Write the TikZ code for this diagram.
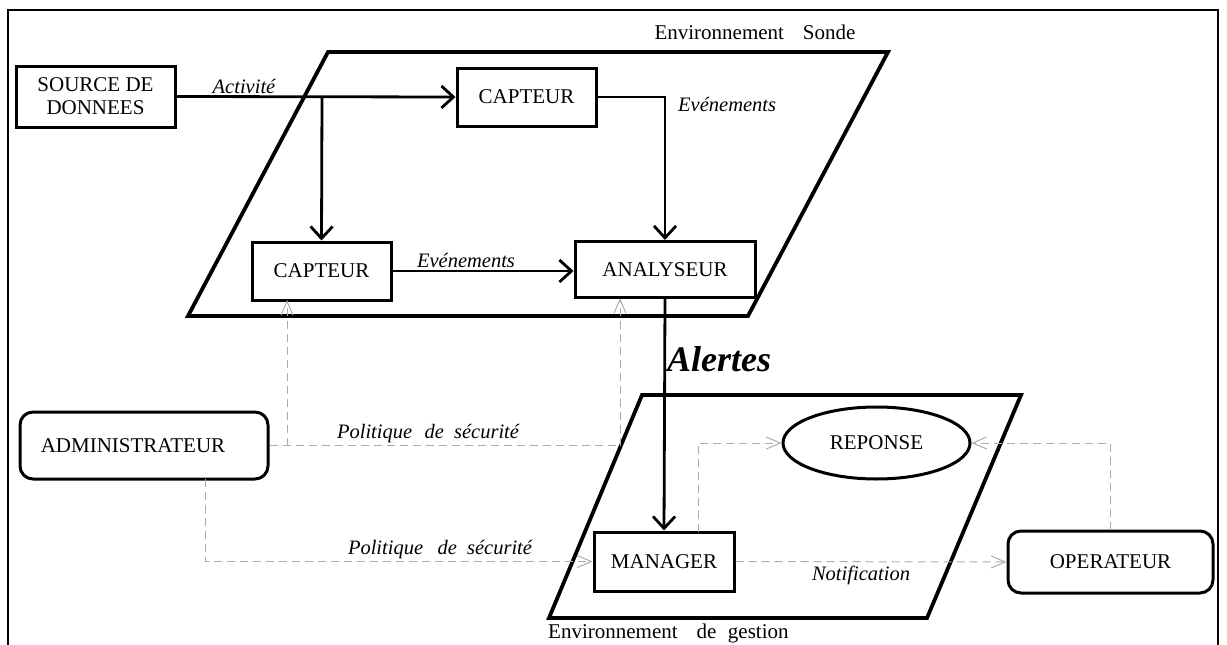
\documentclass[tikz,border=0pt]{standalone}
\usepackage{fontspec}
\setmainfont{Liberation Serif}
\usetikzlibrary{arrows.meta,shapes.geometric,calc}
\begin{document}
\begin{tikzpicture}[x=1pt,y=-1pt,
  box/.style={draw,line width=3pt,inner sep=0pt,font=\fontsize{21}{23}\selectfont,align=center},
  rbox/.style={box,rounded corners=13pt},
  conn/.style={line width=2.8pt,-{Straight Barb[length=12pt,width=22pt]}},
  dsh/.style={gray!65,line width=1pt,dash pattern=on 8pt off 5pt,-{Straight Barb[length=14pt,width=12pt]}},
  dshl/.style={gray!65,line width=1pt,dash pattern=on 8pt off 5pt},
  lbl/.style={font=\fontsize{20.5}{22}\selectfont\itshape,inner sep=0pt},
  envtxt/.style={font=\fontsize{21}{23}\selectfont,inner sep=0pt},
  env/.style={line width=3.8pt,line join=miter}]
\useasboundingbox (0,0) rectangle (1227,645);
% outer frame
\draw[line width=2.2pt] (8,645) -- (8,10) -- (1218,10) -- (1218,645);
% environments
\draw[env] (328,52) -- (888,52) -- (748,316) -- (188,316) -- cycle;
\draw[env] (642,395) -- (1021,395) -- (927,618) -- (549,618) -- cycle;
\node[envtxt] (envs) at (755,32) {Environnement\hspace{0.9em}Sonde};
\node[envtxt,anchor=west] (envg) at (548,633) {Environnement\hspace{0.9em}de\hspace{0.3em} gestion};
% nodes
\node[box,minimum width=159pt,minimum height=61pt] (src) at (95.5,96.5) {SOURCE DE\\DONNEES};
\node[box,minimum width=139pt,minimum height=58pt] (cap1) at (526.5,97) {CAPTEUR};
\node[box,minimum width=139pt,minimum height=58pt] (cap2) at (321.5,271) {CAPTEUR};
\node[box,minimum width=180pt,minimum height=56pt] (ana) at (665,269.5) {ANALYSEUR};
\node[box,minimum width=140pt,minimum height=59pt] (mgr) at (664,561.5) {MANAGER};
\node[rbox,minimum width=205pt,minimum height=62pt] (op) at (1110.5,562) {OPERATEUR};
\node[rbox,minimum width=248pt,minimum height=67pt] (admin) at (144,445.5) {\hspace*{-22pt}ADMINISTRATEUR};
\node[box,ellipse,minimum width=187pt,minimum height=72pt] (rep) at (876.5,443) {REPONSE};
% solid connectors
\coordinate (br) at (322,97);
\draw[conn] (src.east) -- (cap1.west);
\draw[conn] (br) -- (cap2.north);
\draw[conn] (cap1.east) -| (ana.north);
\draw[conn] (cap2.east) -- (cap2.east -| ana.west);
\draw[conn] (ana.south) -- (mgr.north);
% dashed connectors
\coordinate (c2in) at (287,300);
\coordinate (anin) at (620,298);
\coordinate (adbot) at (205,479);
\coordinate (mgtop) at (698,532);
\draw[dshl] (admin.east) -- (admin.east -| anin);
\draw[dsh] (admin.east -| c2in) -- (c2in);
\draw[dsh] (admin.east -| anin) -- (anin);
\draw[dsh] (adbot) |- (mgr.west);
\draw[dsh] (mgtop) |- (rep.west);
\draw[dsh] (mgr.east) -- (op.west);
\draw[dsh] (op.north) |- (rep.east);
% labels
\node[lbl] (l1) at (244,86) {Activité};
\node[lbl,anchor=west] (l2) at (678,104) {Evénements};
\node[lbl] (l3) at (466,260) {Evénements};
\node[font=\fontsize{36}{38}\selectfont\bfseries\itshape,anchor=west,inner sep=0pt] (l4) at (667,359) {Alertes};
\node[lbl] (l5) at (428,434) {Politique\hspace{0.6em}de\hspace{0.5em}sécurité};
\node[lbl] (l6) at (440,550) {Politique\hspace{0.7em}de\hspace{0.5em}sécurité};
\node[lbl] (l7) at (861,575) {Notification};
\end{tikzpicture}
\end{document}
